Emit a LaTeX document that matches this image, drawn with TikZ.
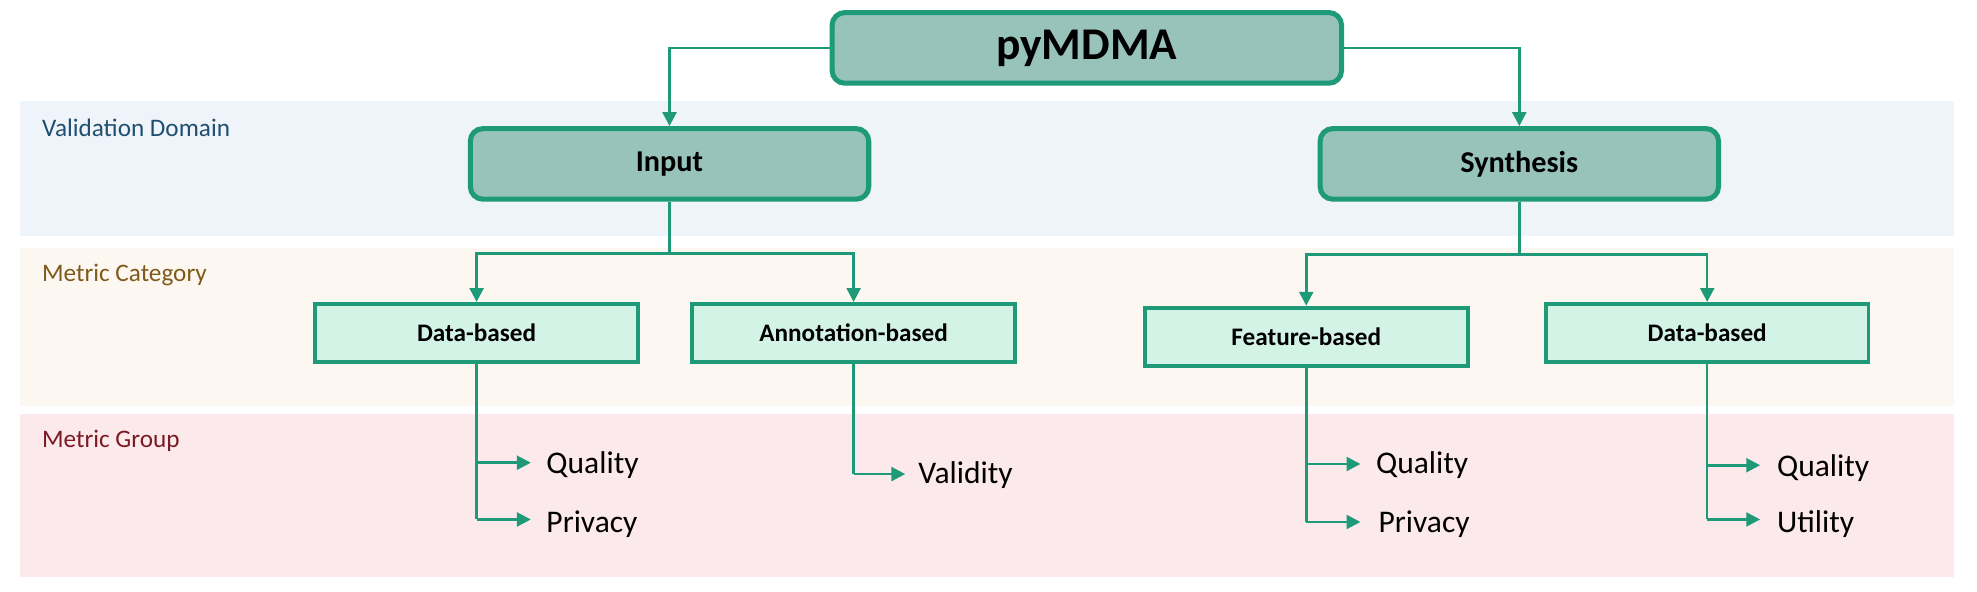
\documentclass[tikz,border=0pt]{standalone}
\usepackage{fontspec}
\setmainfont{Carlito}
\usetikzlibrary{arrows.meta}
\definecolor{gr}{HTML}{1E9A78}
\definecolor{bigf}{HTML}{97C3BB}
\definecolor{smf}{HTML}{D4F3E7}
\definecolor{b1}{HTML}{EEF4FA}
\definecolor{b2}{HTML}{FDF7F1}
\definecolor{b3}{HTML}{FCE9EC}
\definecolor{t1}{HTML}{1F4E6E}
\definecolor{t2}{HTML}{7F5A1A}
\definecolor{t3}{HTML}{7A1A22}
\begin{document}
\begin{tikzpicture}[x=0.5pt,y=-0.5pt,
 big/.style={draw=gr,line width=2pt,fill=bigf,rounded corners=5pt,font=\bfseries},
 sm/.style={draw=gr,line width=1.5pt,fill=smf,font=\bfseries\fontsize{10}{11}\selectfont},
 con/.style={draw=gr,line width=1pt},
 arr/.style={con,-{Triangle[length=5.5pt,width=5.5pt]}},
 leaf/.style={anchor=west,font=\fontsize{12.5}{14}\selectfont,inner sep=0pt},
 band/.style={anchor=north west,font=\fontsize{10}{11}\selectfont,inner sep=0pt}]
\useasboundingbox (0,0) rectangle (1568,469);
\fill[b1] (16,80) rectangle (1550,187);
\fill[b2] (16,197) rectangle (1550,322);
\fill[b3] (16,328) rectangle (1550,458);
\node[band,text=t1] (vd) at (33,94) {Validation Domain};
\node[band,text=t2] (mc) at (33,209) {Metric Category};
\node[band,text=t3] (mg) at (33,341) {Metric Group};

\node[big,minimum width=202pt,minimum height=28pt,font=\bfseries\fontsize{18}{20}\selectfont] (top) at (862,38) {pyMDMA};
\node[big,minimum width=158pt,minimum height=28pt,font=\bfseries\fontsize{12}{14}\selectfont] (in) at (531,130) {Input};
\node[big,minimum width=158pt,minimum height=28pt,font=\bfseries\fontsize{12}{14}\selectfont] (sy) at (1205,130) {Synthesis};
\node[sm,minimum width=128pt,minimum height=23pt] (d1) at (378,264) {Data-based};
\node[sm,minimum width=128pt,minimum height=23pt] (a1) at (677,264) {Annotation-based};
\node[sm,minimum width=128pt,minimum height=23pt] (f1) at (1036,267) {Feature-based};
\node[sm,minimum width=128pt,minimum height=23pt] (d2) at (1354,264) {Data-based};

\draw[arr] (top.west) -| (in.north);
\draw[arr] (top.east) -| (sy.north);
\coordinate (ji) at (531,201);
\coordinate (js) at (1205,202);
\draw[con] (in.south) -- (ji);
\draw[arr] (ji) -| (d1.north);
\draw[arr] (ji) -| (a1.north);
\draw[con] (sy.south) -- (js);
\draw[arr] (js) -| (f1.north);
\draw[arr] (js) -| (d2.north);

\node[leaf] (q1) at (433,369) {Quality};
\node[leaf] (p1) at (433,416) {Privacy};
\node[leaf] (v1) at (728,377) {Validity};
\node[leaf] (q2) at (1091,369) {Quality};
\node[leaf] (p2) at (1093,416) {Privacy};
\node[leaf] (q3) at (1409,371) {Quality};
\node[leaf] (u3) at (1409,416) {Utility};

\draw[con] (d1.south) -- (378,412);
\draw[arr] (378,367) -- (421,367);
\draw[arr] (378,412) -- (421,412);
\draw[con] (a1.south) -- (677,376);
\draw[arr] (677,376) -- (718,376);
\draw[con] (f1.south) -- (1036,414);
\draw[arr] (1036,368) -- (1079,368);
\draw[arr] (1036,414) -- (1079,414);
\draw[con] (d2.south) -- (1354,412);
\draw[arr] (1354,369) -- (1396,369);
\draw[arr] (1354,412) -- (1396,412);
\end{tikzpicture}
\end{document}
